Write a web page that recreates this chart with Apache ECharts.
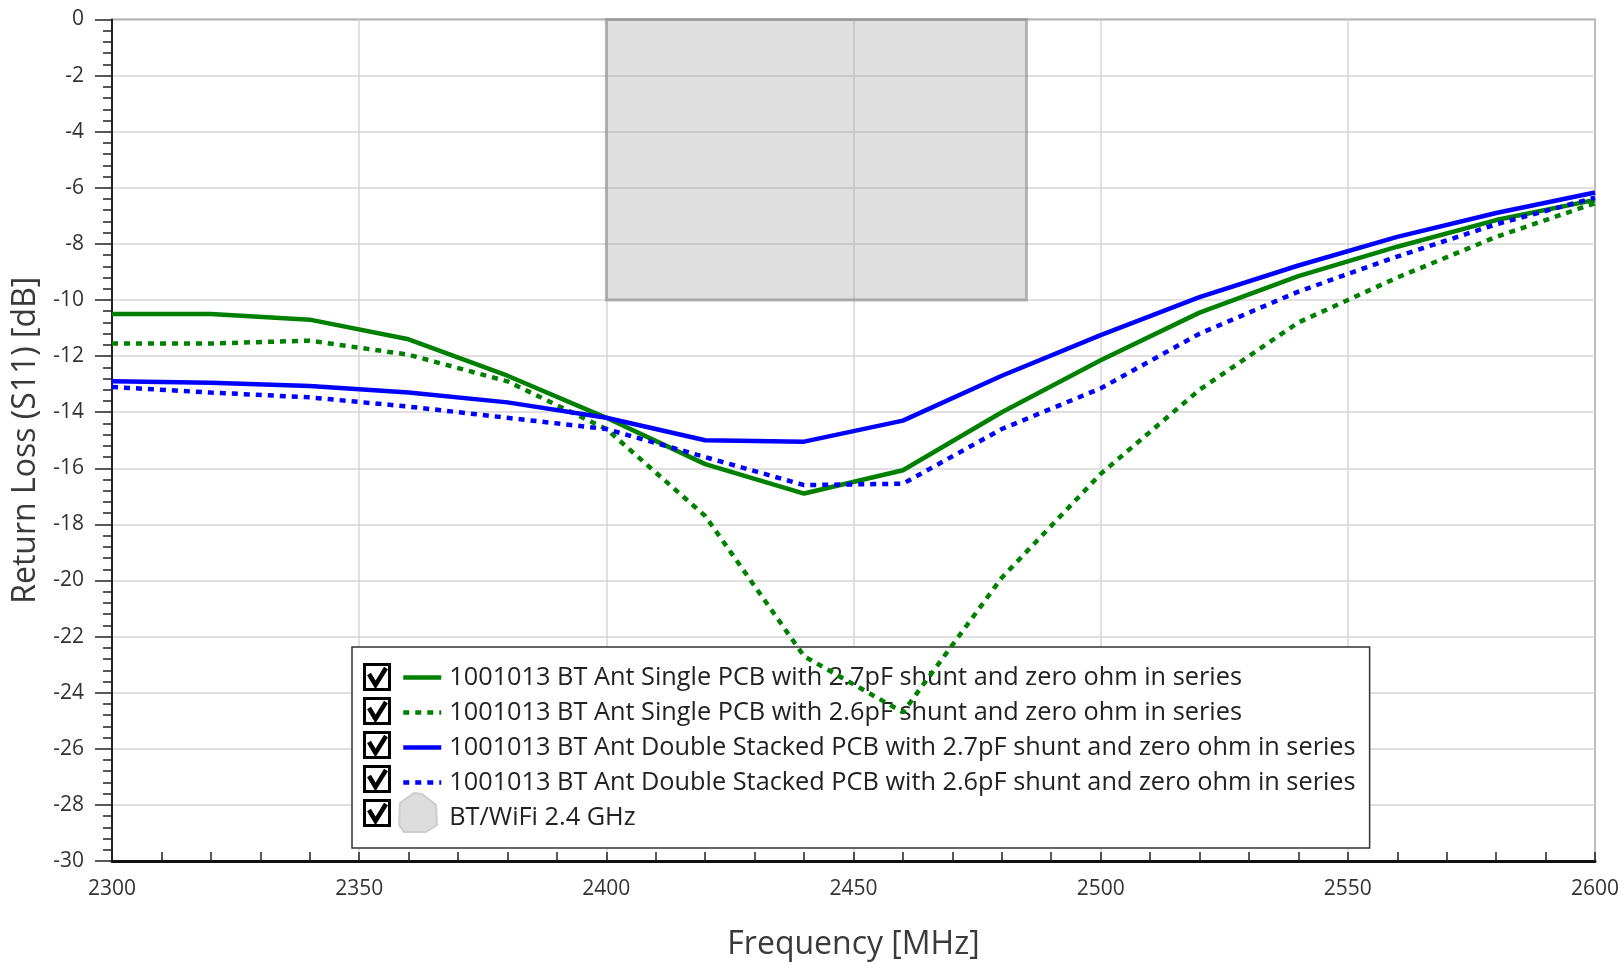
<!DOCTYPE html>
<html>
<head>
<meta charset="utf-8">
<script src="https://cdn.jsdelivr.net/npm/echarts@6/dist/echarts.min.js"></script>
<style>
html,body{margin:0;padding:0;background:#fff;}
#chart{width:1623px;height:963px;}
</style>
</head>
<body>
<div id="chart"></div>
<script>
// ---- data ----
const frequencies = [2300, 2320, 2340, 2360, 2380, 2400, 2420, 2440, 2460, 2480, 2500, 2520, 2540, 2560, 2580, 2600];
const seriesNames = [
  '1001013 BT Ant Single PCB with 2.7pF shunt and zero ohm in series',
  '1001013 BT Ant Single PCB with 2.6pF shunt and zero ohm in series',
  '1001013 BT Ant Double Stacked PCB with 2.7pF shunt and zero ohm in series',
  '1001013 BT Ant Double Stacked PCB with 2.6pF shunt and zero ohm in series'
];
const single27 = [-10.5, -10.5, -10.7, -11.4, -12.7, -14.2, -15.85, -16.9, -16.07, -14.0, -12.15, -10.45, -9.15, -8.1, -7.15, -6.43];
const single26 = [-11.55, -11.55, -11.45, -11.95, -12.9, -14.6, -17.7, -22.7, -24.7, -19.9, -16.2, -13.2, -10.8, -9.2, -7.75, -6.55];
const double27 = [-12.9, -12.95, -13.07, -13.3, -13.65, -14.2, -15.0, -15.05, -14.3, -12.7, -11.25, -9.9, -8.77, -7.75, -6.9, -6.17];
const double26 = [-13.1, -13.3, -13.47, -13.8, -14.2, -14.6, -15.6, -16.6, -16.55, -14.6, -13.15, -11.2, -9.7, -8.45, -7.3, -6.35];
const bandName = 'BT/WiFi 2.4 GHz';
const bandFreq = [2400, 2485];
const bandLoss = [0, -10];
const xAxisName = 'Frequency [MHz]';
const yAxisName = 'Return Loss (S11) [dB]';

const FONT = '"Open Sans", "Noto Sans", sans-serif';
const pairs = (ys) => frequencies.map((f, i) => [f, ys[i]]);

const chart = echarts.init(document.getElementById('chart'), null, {renderer: 'canvas'});

function lineSeries(name, data, color, dotted) {
  return {
    name: name,
    type: 'line',
    data: pairs(data),
    symbol: 'none',
    showSymbol: false,
    z: 10,
    lineStyle: {color: color, width: 4.5, type: dotted ? [6, 6] : 'solid'},
    itemStyle: {color: color},
    emphasis: {disabled: true}
  };
}

// legend checkboxes and band icon
const rowTop = 677, rowStep = 34;
const graphics = [];
for (let i = 0; i < 5; i++) {
  const cy = rowTop + rowStep * i;
  graphics.push({
    type: 'rect', z: 100,
    shape: {x: 364.5, y: cy - 12.5, width: 25, height: 25},
    style: {fill: '#fff', stroke: '#000', lineWidth: 3}
  });
  graphics.push({
    type: 'polyline', z: 101,
    shape: {points: [[369, cy - 3], [375.5, cy + 8], [386, cy - 9]]},
    style: {stroke: '#000', lineWidth: 4.5, fill: null, lineJoin: 'miter'}
  });
}
const by = rowTop + rowStep * 4;
graphics.push({
  type: 'polygon', z: 100,
  shape: {points: [[400, by - 10], [414, by - 20], [422, by - 19], [436, by - 8], [437, by + 12], [426, by + 19], [404, by + 19], [399, by + 12]]},
  style: {fill: '#dcdcdc', stroke: '#cdcdcd', lineWidth: 2}
});

const hiddenSymbol = {color: 'transparent', borderWidth: 0, opacity: 0};

const option = {
  backgroundColor: '#ffffff',
  animation: false,
  grid: {
    left: 112, right: 28, top: 19.5, bottom: 102,
    outerBoundsMode: 'none', containLabel: false,
    show: true, borderColor: '#444', borderWidth: 1.5, backgroundColor: 'transparent'
  },
  xAxis: {
    type: 'value', min: 2300, max: 2600, interval: 50,
    name: xAxisName, nameLocation: 'middle', nameGap: 68,
    nameTextStyle: {fontFamily: FONT, fontSize: 32, color: '#3a3a3a'},
    axisLine: {show: true, onZero: false, lineStyle: {color: '#111', width: 3}},
    axisTick: {show: true, inside: true, length: 9, lineStyle: {color: '#222', width: 1.5}},
    minorTick: {show: true, splitNumber: 5, length: 9, lineStyle: {color: '#222', width: 1.5}},
    axisLabel: {fontFamily: FONT, fontSize: 21, color: '#333', margin: 18, formatter: (v) => String(v)},
    splitLine: {show: true, lineStyle: {color: '#d6d6d6', width: 1.5}}
  },
  yAxis: {
    type: 'value', min: -30, max: 0, interval: 2,
    name: yAxisName, nameLocation: 'middle', nameGap: 62, nameRotate: 90,
    nameTextStyle: {fontFamily: FONT, fontSize: 32, color: '#3a3a3a'},
    axisLine: {show: true, onZero: false, lineStyle: {color: '#222', width: 2}},
    axisTick: {show: true, inside: false, length: 17, lineStyle: {color: '#222', width: 1.5}},
    minorTick: {show: true, splitNumber: 5, length: 9, lineStyle: {color: '#222', width: 1.5}},
    axisLabel: {fontFamily: FONT, fontSize: 21, color: '#333', margin: 28},
    splitLine: {show: true, lineStyle: {color: '#d6d6d6', width: 1.5}}
  },
  legend: {
    orient: 'vertical',
    left: 352, top: 647,
    z: 1,
    padding: [18, 14, 18, 49],
    itemGap: 10,
    itemWidth: 38, itemHeight: 24,
    backgroundColor: '#fff',
    borderColor: '#333', borderWidth: 1.5,
    selectedMode: false,
    lineStyle: {width: 4.5},
    textStyle: {fontFamily: FONT, fontSize: 25.3, color: '#222', lineHeight: 24, padding: [0, 0, 0, 3]},
    data: [
      {name: seriesNames[0], itemStyle: hiddenSymbol},
      {name: seriesNames[1], itemStyle: hiddenSymbol},
      {name: seriesNames[2], itemStyle: hiddenSymbol},
      {name: seriesNames[3], itemStyle: hiddenSymbol},
      {name: bandName, icon: 'rect', itemStyle: hiddenSymbol}
    ]
  },
  graphic: graphics,
  series: [
    {
      name: bandName,
      type: 'line',
      data: [],
      z: 2,
      itemStyle: {color: '#e0e0e0'},
      lineStyle: {opacity: 0},
      markArea: {
        silent: true,
        itemStyle: {color: 'rgba(150,150,150,0.3)', borderColor: 'rgba(140,140,140,0.6)', borderWidth: 3},
        data: [[{coord: [bandFreq[0], bandLoss[0]]}, {coord: [bandFreq[1], bandLoss[1]]}]]
      }
    },
    lineSeries(seriesNames[0], single27, '#008000', false),
    lineSeries(seriesNames[1], single26, '#008000', true),
    lineSeries(seriesNames[2], double27, '#0000ff', false),
    lineSeries(seriesNames[3], double26, '#0000ff', true)
  ]
};
chart.setOption(option);
</script>
</body>
</html>
